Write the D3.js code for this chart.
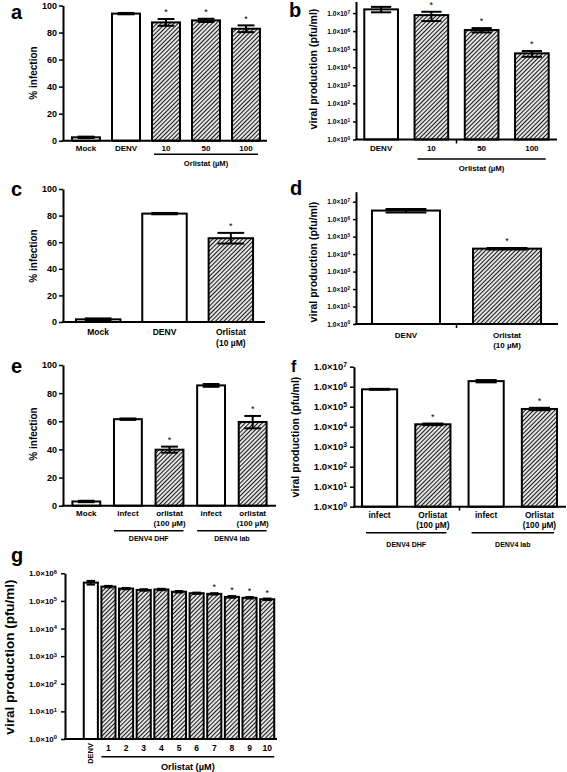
<!DOCTYPE html>
<html><head><meta charset="utf-8">
<script src="https://cdn.jsdelivr.net/npm/d3@7"></script>
<style>body{margin:0;background:#fff}</style>
</head><body>
<script>
// ---------------- DATA ----------------
const linearTicks = [0, 20, 40, 60, 80, 100];
const logTicks7 = [1, 1e1, 1e2, 1e3, 1e4, 1e5, 1e6, 1e7];
const logTicks6 = [1, 1e1, 1e2, 1e3, 1e4, 1e5, 1e6];

// panel a
const aCategories = ["Mock", "DENV", "10", "50", "100"];
const aValues   = [2.5, 94, 87.5, 89, 82.8];
const aErrLow   = [2, 93.5, 85, 87.8, 80.3];
const aErrHigh  = [3, 94.5, 90, 90.2, 85.3];
const aHatched  = [false, false, true, true, true];
const aSignif   = [false, false, true, true, true];

// panel b
const bCategories = ["DENV", "10", "50", "100"];
const bValues   = [1.6e7, 7.7e6, 1.15e6, 5.9e4];
const bErrLow   = [1.1e7, 3.6e6, 8.5e5, 3.8e4];
const bErrHigh  = [2.2e7, 1.18e7, 1.47e6, 7.9e4];
const bHatched  = [false, true, true, true];
const bSignif   = [false, true, true, true];

// panel c
const cCategories = ["Mock", "DENV", "Orlistat\n(10 µM)"];
const cValues   = [2, 81.5, 63];
const cErrLow   = [1.3, 81, 59];
const cErrHigh  = [2.7, 82, 67];
const cHatched  = [false, false, true];
const cSignif   = [false, false, true];

// panel d
const dCategories = ["DENV", "Orlistat\n(10 µM)"];
const dValues   = [3.1e6, 2.05e4];
const dErrLow   = [2.4e6, 1.85e4];
const dErrHigh  = [3.8e6, 2.25e4];
const dHatched  = [false, true];
const dSignif   = [false, true];

// panel e
const eCategories = ["Mock", "infect", "orlistat\n(100 µM)", "infect", "orlistat\n(100 µM)"];
const eValues   = [3, 61.5, 39.8, 85.5, 59.5];
const eErrLow   = [2.5, 61, 37.7, 84.5, 55];
const eErrHigh  = [3.5, 62, 42, 86.5, 63.8];
const eHatched  = [false, false, true, false, true];
const eSignif   = [false, false, true, false, true];
const eGroups   = ["DENV4 DHF", "DENV4 lab"];

// panel f
const fCategories = ["infect", "Orlistat\n(100 µM)", "infect", "Orlistat\n(100 µM)"];
const fValues   = [7.4e5, 1.32e4, 1.9e6, 7.7e4];
const fErrLow   = [7.0e5, 1.2e4, 1.65e6, 6.7e4];
const fErrHigh  = [7.8e5, 1.44e4, 2.15e6, 8.8e4];
const fHatched  = [false, true, false, true];
const fSignif   = [false, true, false, true];
const fGroups   = ["DENV4 DHF", "DENV4 lab"];

// panel g
const gCategories = ["DENV", "1", "2", "3", "4", "5", "6", "7", "8", "9", "10"];
const gValues   = [4.6e5, 3.3e5, 2.8e5, 2.5e5, 2.6e5, 2.15e5, 1.9e5, 1.8e5, 1.4e5, 1.3e5, 1.15e5];
const gErrLow   = [3.9e5, 3.1e5, 2.65e5, 2.35e5, 2.45e5, 2.02e5, 1.8e5, 1.7e5, 1.3e5, 1.22e5, 1.08e5];
const gErrHigh  = [5.3e5, 3.5e5, 2.95e5, 2.65e5, 2.75e5, 2.28e5, 2.0e5, 1.9e5, 1.5e5, 1.38e5, 1.22e5];
const gHatched  = [false, true, true, true, true, true, true, true, true, true, true];
const gSignif   = [false, false, false, false, false, false, false, true, true, true, true];

const orlistatLabel = "Orlistat (µM)";
const pctTitle = "% infection";
const viralTitle = "viral production (pfu/ml)";

// ---------------- DRAWING ----------------
const FONT = "'Liberation Sans', Arial, Helvetica, sans-serif";
const svg = d3.select("body").append("svg").attr("width", 567).attr("height", 772)
  .attr("font-family", FONT);
const defs = svg.append("defs");
const pat = defs.append("pattern").attr("id", "hatch").attr("patternUnits", "userSpaceOnUse")
  .attr("width", 3).attr("height", 3).attr("patternTransform", "rotate(45)");
pat.append("rect").attr("width", 3).attr("height", 3).attr("fill", "#fff");
pat.append("line").attr("x1", 1.5).attr("x2", 1.5).attr("y1", -1).attr("y2", 4)
  .attr("stroke", "#1a1a1a").attr("stroke-width", 1.25);

function drawPanel(L, D) {
  const g = svg.append("g");
  g.append("text").attr("x", L.letter[1]).attr("y", L.letter[2]).text(L.letter[0])
    .attr("font-size", L.letterSize || 20).attr("font-weight", "bold");

  let y;
  if (D.log) {
    y = d3.scaleLog().domain([1, D.logTop]).range([L.y0, L.yTop]);
  } else {
    y = d3.scaleLinear().domain([0, 100]).range([L.y0, L.yTop]);
  }
  const n = D.cats.length;
  const x = d3.scaleBand().domain(d3.range(n)).range(L.band).paddingInner(L.pi).paddingOuter(L.po);
  const bw = x.bandwidth();

  const ax = d3.axisLeft(y).tickValues(D.ticks).tickSize(L.tickLen || 4).tickSizeOuter(0)
    .tickPadding(L.tickPad || 2);
  if (D.log) ax.tickFormat(() => "");
  const ga = g.append("g").attr("transform", `translate(${L.axisX},0)`).call(ax);
  ga.attr("font-family", FONT).attr("font-size", L.tickFont).attr("font-weight", "bold");
  ga.select(".domain").attr("stroke", "#000").attr("stroke-width", 2);
  ga.selectAll(".tick line").attr("stroke", "#000").attr("stroke-width", 1.5);
  ga.selectAll(".tick text").attr("fill", "#000");
  if (D.log) {
    ga.selectAll(".tick text").each(function (d) {
      const t = d3.select(this);
      t.text(null);
      t.append("tspan").text("1.0×10");
      t.append("tspan").attr("dy", "-0.45em").attr("font-size", "72%").text(Math.round(Math.log10(d)));
    });
  }
  g.append("text").attr("transform", `translate(${L.title[0]},${L.title[1]}) rotate(-90)`)
    .attr("text-anchor", "middle").attr("dominant-baseline", "central")
    .attr("font-size", L.titleSize).attr("font-weight", "bold").text(D.title);

  const bars = g.append("g");
  D.vals.forEach((v, i) => {
    bars.append("rect").attr("x", x(i)).attr("y", y(v)).attr("width", bw)
      .attr("height", L.y0 - y(v))
      .attr("fill", D.hatched[i] ? "url(#hatch)" : "#fff")
      .attr("stroke", "#000").attr("stroke-width", L.barStroke || 2);
  });
  g.append("line").attr("x1", L.axisX - 1).attr("x2", L.axisEnd).attr("y1", L.y0).attr("y2", L.y0)
    .attr("stroke", "#000").attr("stroke-width", 2);

  const capW = bw * (L.capFrac || 0.6);
  D.vals.forEach((v, i) => {
    const cx = x(i) + bw / 2;
    const lo = y(D.lo[i]), hi = y(D.hi[i]);
    g.append("line").attr("x1", cx).attr("x2", cx).attr("y1", hi).attr("y2", lo)
      .attr("stroke", "#000").attr("stroke-width", 2);
    [hi, lo].forEach(yy => g.append("line").attr("x1", cx - capW / 2).attr("x2", cx + capW / 2)
      .attr("y1", yy).attr("y2", yy).attr("stroke", "#000").attr("stroke-width", 2));
    if (D.sig[i]) {
      const fs = L.starSize || 9;
      g.append("text").attr("x", cx).attr("y", hi - (L.starGap || 9) + 0.58 * fs)
        .attr("text-anchor", "middle").attr("font-size", fs).text("*");
    }
  });

  D.cats.forEach((c, i) => {
    const cx = x(i) + bw / 2;
    if (i === 0 && L.rotateFirst) {
      g.append("text").attr("transform", `translate(${cx},${L.rotY}) rotate(-90)`)
        .attr("text-anchor", "end").attr("dominant-baseline", "central")
        .attr("font-size", L.catFont - 1).attr("font-weight", "bold").text(c);
      return;
    }
    c.split("\n").forEach((line, k) => {
      g.append("text").attr("x", cx).attr("y", L.catY + k * L.catLine)
        .attr("text-anchor", "middle").attr("font-size", L.catFont).attr("font-weight", "bold")
        .text(line);
    });
  });

  (L.groups || []).forEach((gr, k) => {
    const x1 = x(gr.from) + (gr.inset || 0), x2 = x(gr.to) + bw - (gr.inset || 0);
    g.append("line").attr("x1", x1).attr("x2", x2).attr("y1", L.groupLineY).attr("y2", L.groupLineY)
      .attr("stroke", "#000").attr("stroke-width", 1.5);
    g.append("text").attr("x", (x1 + x2) / 2).attr("y", L.groupY).attr("text-anchor", "middle")
      .attr("font-size", L.groupFont).attr("font-weight", "bold").text(D.groupLabels[k]);
  });

  if (L.breakAfter != null) {
    const bx = (x(L.breakAfter) + bw + x(L.breakAfter + 1)) / 2;
    g.append("line").attr("x1", bx).attr("x2", bx).attr("y1", L.y0).attr("y2", L.y0 + 4)
      .attr("stroke", "#000").attr("stroke-width", 1.5);
  }
}

// a
drawPanel({
  letter: ["a", 11, 19], axisX: 63, axisEnd: 267, y0: 140.7, yTop: 5.5,
  band: [66, 266], pi: 0.3, po: 0.15, tickFont: 9, title: [33, 73], titleSize: 10,
  catY: 151, catLine: 10, catFont: 8, groupLineY: 154.3, groupY: 165.5, groupFont: 7.6,
  groups: [{ from: 2, to: 4, inset: 2 }]
}, { cats: aCategories, vals: aValues, lo: aErrLow, hi: aErrHigh, hatched: aHatched, sig: aSignif,
  ticks: linearTicks, title: pctTitle, groupLabels: [orlistatLabel] });

// b
drawPanel({
  letter: ["b", 289, 17], axisX: 356, axisEnd: 557, y0: 139.5, yTop: 1.5,
  band: [356, 557], pi: 0.33, po: 0.165, tickFont: 6.5, tickLen: 3, tickPad: 3,
  title: [313, 69], titleSize: 10.5,
  catY: 151, catLine: 10, catFont: 8, groupLineY: 159, groupY: 171, groupFont: 7.8,
  groups: [{ from: 1, to: 3, inset: 3 }], breakAfter: 1
}, { log: true, logTop: Math.pow(10, 7.64), cats: bCategories, vals: bValues, lo: bErrLow, hi: bErrHigh,
  hatched: bHatched, sig: bSignif, ticks: logTicks7, title: viralTitle, groupLabels: [orlistatLabel] });

// c
drawPanel({
  letter: ["c", 11, 196], axisX: 63, axisEnd: 265, y0: 322, yTop: 189,
  band: [63, 266], pi: 0.33, po: 0.195, tickFont: 9, title: [33, 256], titleSize: 10,
  catY: 335, catLine: 11, catFont: 8.5
}, { cats: cCategories, vals: cValues, lo: cErrLow, hi: cErrHigh, hatched: cHatched, sig: cSignif,
  ticks: linearTicks, title: pctTitle });

// d
drawPanel({
  letter: ["d", 290, 195], axisX: 356, axisEnd: 558, y0: 324, yTop: 191.7,
  band: [356, 557], pi: 0.327, po: 0.158, tickFont: 6.5, tickLen: 3, tickPad: 3,
  title: [313, 262], titleSize: 10.5,
  catY: 337.5, catLine: 10, catFont: 8, breakAfter: 0
}, { log: true, logTop: Math.pow(10, 7.57), cats: dCategories, vals: dValues, lo: dErrLow, hi: dErrHigh,
  hatched: dHatched, sig: dSignif, ticks: logTicks7, title: viralTitle });

// e
drawPanel({
  letter: ["e", 11, 373], axisX: 63, axisEnd: 276, y0: 505.7, yTop: 365,
  band: [63, 276], pi: 0.33, po: 0.226, tickFont: 9, title: [33, 434], titleSize: 10,
  catY: 515.5, catLine: 10, catFont: 8, groupLineY: 530.7, groupY: 541, groupFont: 7,
  groups: [{ from: 1, to: 2, inset: 0 }, { from: 3, to: 4, inset: 0 }]
}, { cats: eCategories, vals: eValues, lo: eErrLow, hi: eErrHigh, hatched: eHatched, sig: eSignif,
  ticks: linearTicks, title: pctTitle, groupLabels: eGroups });

// f
drawPanel({
  letter: ["f", 291, 372], letterSize: 16, axisX: 354, axisEnd: 566, y0: 506.7, yTop: 366.7,
  band: [354, 565], pi: 0.34, po: 0.15, tickFont: 9.5, tickLen: 4, tickPad: 3,
  title: [295, 437], titleSize: 10.5,
  catY: 517.5, catLine: 10, catFont: 8.3, groupLineY: 532.7, groupY: 547, groupFont: 7,
  groups: [{ from: 0, to: 1, inset: 4 }, { from: 2, to: 3, inset: 3 }], breakAfter: 1
}, { log: true, logTop: 1e7, cats: fCategories, vals: fValues, lo: fErrLow, hi: fErrHigh,
  hatched: fHatched, sig: fSignif, ticks: logTicks7, title: viralTitle, groupLabels: fGroups });

// g
drawPanel({
  letter: ["g", 11, 562], axisX: 65, axisEnd: 277, y0: 739, yTop: 573.3,
  band: [82, 276], pi: 0.2, po: 0.1, tickFont: 8, tickLen: 4, tickPad: 4,
  title: [9, 657], titleSize: 13.5, starGap: 8,
  catY: 751, catLine: 10, catFont: 8.5, rotateFirst: true, rotY: 743,
  groupLineY: 756.7, groupY: 769.5, groupFont: 9.2,
  groups: [{ from: 1, to: 10, inset: 0 }]
}, { log: true, logTop: 1e6, cats: gCategories, vals: gValues, lo: gErrLow, hi: gErrHigh,
  hatched: gHatched, sig: gSignif, ticks: logTicks6, title: viralTitle, groupLabels: [orlistatLabel] });
</script>
</body></html>
